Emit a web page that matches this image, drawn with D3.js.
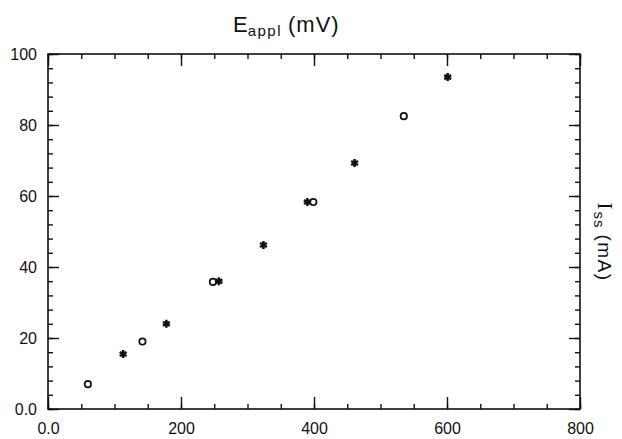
<!DOCTYPE html>
<html lang="en">
<head>
    <meta charset="UTF-8">
    <title>Iss vs Eappl</title>
    <script src="https://d3js.org/d3.v7.min.js"></script>
    <style>
      body { margin: 0; background: #fff; }
      text { font-family: "Liberation Sans", Arial, sans-serif; fill: #111; }
    </style>
</head>
<body>
<div class="canvas"></div>
<script>
  // values
  const circleX = [60, 248, 142, 399, 535]
  const circleY = [7, 35.8, 19, 58.3, 82.5]
  const starX = [113, 178, 257, 324, 390, 461, 601]
  const starY = [15.5, 24, 36, 46.2, 58.3, 69.3, 93.5]

  const xMajor = [0, 200, 400, 600, 800]
  const xMinor = d3.range(0, 801, 50)
  const yMajor = [0, 20, 40, 60, 80, 100]
  const yMinor = d3.range(0, 101, 4)

  const W = 622, H = 439
  const pLeft = 48, pRight = 580, pTop = 54, pBottom = 409

  const svg = d3.select('.canvas')
    .append('svg')
    .attr('width', W)
    .attr('height', H)

  const x = d3.scaleLinear().domain([0, 800]).range([pLeft, pRight])
  const y = d3.scaleLinear().domain([0, 100]).range([pBottom, pTop])

  const fmt = d => d === 0 ? '0.0' : d

  // minor ticks (no labels) on all four sides
  const minor = [
    d3.axisBottom(x).tickValues(xMinor).tickSize(-5),
    d3.axisTop(x).tickValues(xMinor).tickSize(-5),
    d3.axisLeft(y).tickValues(yMinor).tickSize(-5),
    d3.axisRight(y).tickValues(yMinor).tickSize(-5)
  ]
  const pos = [`translate(0,${pBottom})`, `translate(0,${pTop})`, `translate(${pLeft},0)`, `translate(${pRight},0)`]
  minor.forEach((ax, i) => {
    svg.append('g').attr('transform', pos[i])
      .call(ax.tickFormat('').tickSizeOuter(0))
      .call(g => g.select('.domain').remove())
  })

  // major ticks
  svg.append('g').attr('transform', pos[0])
    .call(d3.axisBottom(x).tickValues(xMajor).tickSize(-12).tickSizeOuter(0).tickPadding(14).tickFormat(fmt))
    .call(g => g.select('.domain').remove())
  svg.append('g').attr('transform', pos[1])
    .call(d3.axisTop(x).tickValues(xMajor).tickSize(-12).tickSizeOuter(0).tickFormat(''))
    .call(g => g.select('.domain').remove())
  svg.append('g').attr('transform', pos[2])
    .call(d3.axisLeft(y).tickValues(yMajor).tickSize(-11).tickSizeOuter(0).tickPadding(11).tickFormat(fmt))
    .call(g => g.select('.domain').remove())
  svg.append('g').attr('transform', pos[3])
    .call(d3.axisRight(y).tickValues(yMajor).tickSize(-11).tickSizeOuter(0).tickFormat(''))
    .call(g => g.select('.domain').remove())

  svg.selectAll('.tick line').attr('stroke', '#111').attr('stroke-width', 1.4)
  svg.selectAll('.tick text')
    .style('font-family', '"Liberation Sans", Arial, sans-serif')
    .attr('font-size', 16)
    .attr('fill', '#111')

  // frame
  svg.append('rect')
    .attr('x', pLeft).attr('y', pTop)
    .attr('width', pRight - pLeft).attr('height', pBottom - pTop)
    .attr('fill', 'none')
    .attr('stroke', '#111')
    .attr('stroke-width', 1.6)

  // title
  const title = svg.append('text')
    .attr('x', 233).attr('y', 32)
    .attr('font-size', 22)
  title.append('tspan').text('E')
  title.append('tspan').attr('dy', 4).attr('font-size', 15).attr('letter-spacing', 1.5).text('appl')
  title.append('tspan').attr('dy', -4).attr('dx', 6).attr('letter-spacing', 1).text('(mV)')

  // right axis label
  const ylab = svg.append('text')
    .attr('transform', 'translate(598,242) rotate(90)')
    .attr('text-anchor', 'middle')
    .attr('font-size', 19)
  ylab.append('tspan').style('font-family', '"Liberation Serif", serif').attr('font-size', 21).text('I')
  ylab.append('tspan').attr('dy', 4).attr('dx', 2).attr('font-size', 15).attr('letter-spacing', 1).text('ss')
  ylab.append('tspan').attr('dy', -4).attr('dx', 6).attr('letter-spacing', 1.5).text('(mA)')

  // points
  svg.selectAll('circle.pt')
    .data(d3.zip(circleX, circleY))
    .enter()
    .append('circle')
    .attr('class', 'pt')
    .attr('cx', d => x(d[0]))
    .attr('cy', d => y(d[1]))
    .attr('r', 3.2)
    .attr('fill', 'none')
    .attr('stroke', '#111')
    .attr('stroke-width', 1.7)

  const star = d3.symbol().type(d3.symbolAsterisk).size(44)
  svg.selectAll('path.star')
    .data(d3.zip(starX, starY))
    .enter()
    .append('path')
    .attr('class', 'star')
    .attr('transform', d => `translate(${x(d[0])},${y(d[1])})`)
    .attr('d', star)
    .attr('fill', 'none')
    .attr('stroke', '#111')
    .attr('stroke-width', 2.5)
</script>
</body>
</html>
